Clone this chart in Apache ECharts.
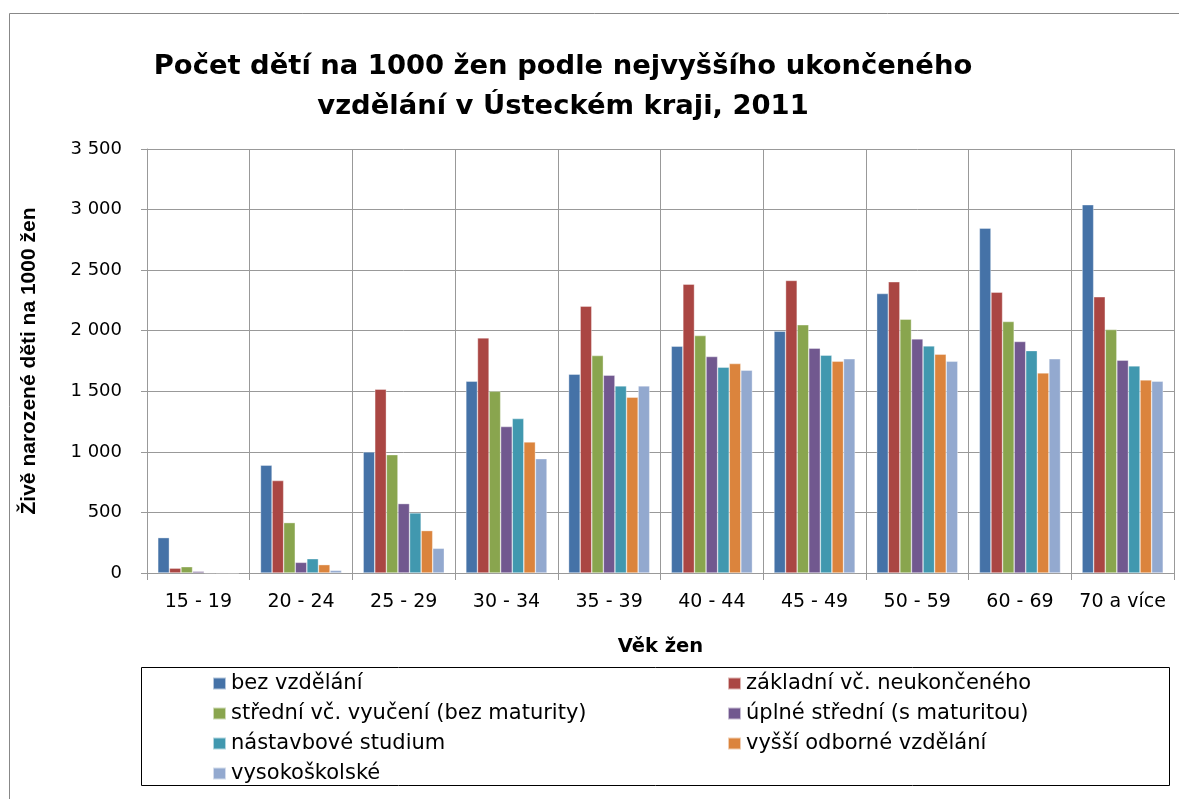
<!DOCTYPE html>
<html>
<head>
<meta charset="utf-8">
<script src="https://cdn.jsdelivr.net/npm/echarts@6/dist/echarts.min.js"></script>
<style>
  html, body { margin: 0; padding: 0; background: #fff; }
  #chart { width: 1179px; height: 799px; }
</style>
</head>
<body>
<div id="chart"></div>
<script>
const categories = ['15 - 19', '20 - 24', '25 - 29', '30 - 34', '35 - 39', '40 - 44', '45 - 49', '50 - 59', '60 - 69', '70 a více']

const seriesNames = [
  'bez vzdělání',
  'základní vč. neukončeného',
  'střední vč. vyučení (bez maturity)',
  'úplné střední (s maturitou)',
  'nástavbové studium',
  'vyšší odborné vzdělání',
  'vysokoškolské'
]

const bezVzdelani = [292, 890, 1000, 1583, 1641, 1872, 1996, 2307, 2847, 3040]
const zakladni = [40, 763, 1517, 1941, 2203, 2384, 2415, 2404, 2318, 2280]
const stredniVyuceni = [52, 416, 977, 1500, 1795, 1960, 2049, 2095, 2076, 2010]
const uplneStredni = [14, 88, 573, 1209, 1633, 1787, 1856, 1933, 1911, 1757]
const nastavbove = [3, 118, 496, 1275, 1545, 1699, 1798, 1875, 1836, 1710]
const vyssiOdborne = [1, 69, 350, 1082, 1451, 1729, 1748, 1806, 1652, 1594]
const vysokoskolske = [0, 22, 204, 944, 1545, 1674, 1768, 1748, 1768, 1583]

const yTicks = [0, 500, 1000, 1500, 2000, 2500, 3000, 3500]

const colors = ['#4572A7', '#AA4643', '#89A54E', '#71588F', '#4198AF', '#DB843D', '#93A9CF']
const allData = [bezVzdelani, zakladni, stredniVyuceni, uplneStredni, nastavbove, vyssiOdborne, vysokoskolske]

const chart = echarts.init(document.getElementById('chart'))

// mezery jako oddělovač tisíců
const fmt = v => String(v).replace(/\B(?=(\d{3})+(?!\d))/g, ' ')
const font = "'DejaVu Sans', sans-serif"

const legendBase = {
  orient: 'vertical',
  icon: 'rect',
  itemWidth: 13,
  itemHeight: 12,
  itemGap: 9,
  selectedMode: false,
  textStyle: { fontFamily: font, fontSize: 21, color: '#000' }
}

chart.setOption({
  backgroundColor: '#fff',
  color: colors,
  animation: false,
  title: {
    text: 'Počet dětí na 1000 žen podle nejvyššího ukončeného\nvzdělání v Ústeckém kraji, 2011',
    left: 558,
    top: 42,
    textAlign: 'center',
    textStyle: {
      fontFamily: font,
      fontSize: 27.4,
      fontWeight: 'bold',
      color: '#000',
      lineHeight: 40
    }
  },
  graphic: [
    {
      type: 'rect',
      shape: { x: 9.5, y: 13.5, width: 1200, height: 820 },
      style: { fill: 'none', stroke: '#888', lineWidth: 1 },
      silent: true
    },
    {
      type: 'rect',
      shape: { x: 141.5, y: 667.5, width: 1028, height: 118 },
      style: { fill: 'none', stroke: '#000', lineWidth: 1 },
      silent: true
    }
  ],
  legend: [
    Object.assign({}, legendBase, {
      left: 207,
      top: 668,
      data: [seriesNames[0], seriesNames[2], seriesNames[4], seriesNames[6]]
    }),
    Object.assign({}, legendBase, {
      left: 722,
      top: 668,
      data: [seriesNames[1], seriesNames[3], seriesNames[5]]
    })
  ],
  grid: {
    left: 147,
    right: 5,
    top: 149,
    bottom: 226
  },
  xAxis: {
    type: 'category',
    data: categories,
    name: 'Věk žen',
    nameLocation: 'middle',
    nameGap: 64,
    nameTextStyle: { fontFamily: font, fontSize: 19.5, fontWeight: 'bold', color: '#000' },
    axisLine: { lineStyle: { color: '#999' } },
    axisTick: { show: true, interval: 0, length: 7, lineStyle: { color: '#999' } },
    axisLabel: { interval: 0, fontFamily: font, fontSize: 19, color: '#000', margin: 20 },
    splitLine: { show: true, interval: 0, lineStyle: { color: '#999', width: 1 } }
  },
  yAxis: {
    type: 'value',
    min: yTicks[0],
    max: yTicks[yTicks.length - 1],
    interval: 500,
    name: 'Živě narozené děti na 1000 žen',
    nameLocation: 'middle',
    nameGap: 107,
    nameTextStyle: { fontFamily: "'Liberation Sans', sans-serif", fontSize: 21, fontWeight: 'bold', color: '#000' },
    axisLine: { show: true, lineStyle: { color: '#999' } },
    axisTick: { show: true, length: 6, lineStyle: { color: '#999' } },
    axisLabel: { fontFamily: font, fontSize: 18, color: '#000', margin: 25, formatter: fmt },
    splitLine: { show: true, lineStyle: { color: '#999', width: 1 } }
  },
  series: allData.map((d, i) => ({
    name: seriesNames[i],
    type: 'bar',
    data: d,
    barGap: '0%',
    barCategoryGap: '21%',
    itemStyle: { borderColor: 'rgba(255,255,255,0.6)', borderWidth: 0.6 }
  }))
})
</script>
</body>
</html>
